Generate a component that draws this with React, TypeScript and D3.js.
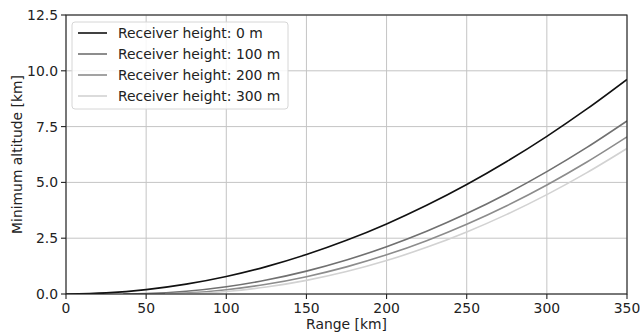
import React from "react";
import * as d3 from "d3";

// range [km] and minimum altitude [km]
const range0 = [0, 25, 50, 75, 100, 125, 150, 175, 200, 225, 250, 275, 300, 325, 350];
const alt0 = [0, 0.049, 0.196, 0.441, 0.785, 1.226, 1.766, 2.403, 3.139, 3.973, 4.905, 5.935, 7.063, 8.29, 9.614];

const range100 = [35.7, 50, 75, 100, 125, 150, 175, 200, 225, 250, 275, 300, 325, 350];
const alt100 = [0, 0.016, 0.121, 0.324, 0.626, 1.025, 1.523, 2.119, 2.812, 3.604, 4.494, 5.482, 6.568, 7.753];

const range200 = [50.5, 75, 100, 125, 150, 175, 200, 225, 250, 275, 300, 325, 350];
const alt200 = [0, 0.047, 0.192, 0.436, 0.777, 1.216, 1.754, 2.39, 3.124, 3.955, 4.885, 5.914, 7.04];

const range300 = [61.8, 75, 100, 125, 150, 175, 200, 225, 250, 275, 300, 325, 350];
const alt300 = [0, 0.014, 0.115, 0.313, 0.611, 1.006, 1.499, 2.09, 2.78, 3.567, 4.453, 5.437, 6.519];

const labels = ["Receiver height: 0 m", "Receiver height: 100 m", "Receiver height: 200 m", "Receiver height: 300 m"];
const colors = ["#111111", "#707070", "#8c8c8c", "#d2d2d2"];

const xTicks = [0, 50, 100, 150, 200, 250, 300, 350];
const yTicks = [0, 2.5, 5, 7.5, 10, 12.5];

const FONT = "'DejaVu Sans', sans-serif";
const FS = 13.9;

export default function App() {
  const W = 640, H = 333;
  const m = { left: 66, right: 13, top: 15, bottom: 39 };
  const x = d3.scaleLinear().domain([0, 350]).range([m.left, W - m.right]);
  const y = d3.scaleLinear().domain([0, 12.5]).range([H - m.bottom, m.top]);

  const series = [
    { xs: range0, ys: alt0 },
    { xs: range100, ys: alt100 },
    { xs: range200, ys: alt200 },
    { xs: range300, ys: alt300 },
  ];

  const line = d3.line<[number, number]>()
    .x(d => x(d[0])).y(d => y(d[1]))
    .curve(d3.curveMonotoneX);

  const legX = 72, legY = 22, legW = 216, legH = 87;

  return (
    <svg width={W} height={H} style={{ position: "absolute", left: 0, top: 0, background: "#fff" }}>
      <defs>
        <clipPath id="plotclip">
          <rect x={x(0)} y={y(12.5)} width={x(350) - x(0)} height={y(0) - y(12.5)} />
        </clipPath>
      </defs>

      {/* grid */}
      {xTicks.map(t => (
        <line key={"gx" + t} x1={x(t)} x2={x(t)} y1={y(0)} y2={y(12.5)} stroke="#c4c4c4" strokeWidth={1} />
      ))}
      {yTicks.map(t => (
        <line key={"gy" + t} x1={x(0)} x2={x(350)} y1={y(t)} y2={y(t)} stroke="#c4c4c4" strokeWidth={1} />
      ))}

      {/* curves */}
      <g clipPath="url(#plotclip)">
        {series.map((s, i) => (
          <path key={i} d={line(s.xs.map((v, j) => [v, s.ys[j]] as [number, number])) || ""}
            fill="none" stroke={colors[i]} strokeWidth={1.6} />
        ))}
      </g>

      {/* frame */}
      <rect x={x(0)} y={y(12.5)} width={x(350) - x(0)} height={y(0) - y(12.5)} fill="none" stroke="#222" strokeWidth={1.1} />

      {/* x ticks */}
      {xTicks.map(t => (
        <g key={"tx" + t}>
          <line x1={x(t)} x2={x(t)} y1={y(0)} y2={y(0) + 5} stroke="#222" strokeWidth={1.1} />
          <text x={x(t)} y={y(0) + 19} textAnchor="middle" fontFamily={FONT} fontSize={FS} fill="#222">{t}</text>
        </g>
      ))}
      {/* y ticks */}
      {yTicks.map(t => (
        <g key={"ty" + t}>
          <line x1={x(0) - 5} x2={x(0)} y1={y(t)} y2={y(t)} stroke="#222" strokeWidth={1.1} />
          <text x={x(0) - 8} y={y(t) + 5} textAnchor="end" fontFamily={FONT} fontSize={FS} fill="#222">{t.toFixed(1)}</text>
        </g>
      ))}

      {/* axis labels */}
      <text x={(x(0) + x(350)) / 2} y={H - 4} textAnchor="middle" fontFamily={FONT} fontSize={FS} fill="#222">Range [km]</text>
      <text transform={`translate(22,${(y(0) + y(12.5)) / 2}) rotate(-90)`} textAnchor="middle" fontFamily={FONT} fontSize={FS} fill="#222">Minimum altitude [km]</text>

      {/* legend */}
      <rect x={legX} y={legY} width={legW} height={legH} rx={3} fill="rgba(255,255,255,0.85)" stroke="#d6d6d6" strokeWidth={1} />
      {labels.map((lab, i) => (
        <g key={lab}>
          <line x1={legX + 6} x2={legX + 35} y1={legY + 11 + i * 21} y2={legY + 11 + i * 21} stroke={colors[i]} strokeWidth={1.6} />
          <text x={legX + 46} y={legY + 16 + i * 21} fontFamily={FONT} fontSize={FS} fill="#222">{lab}</text>
        </g>
      ))}
    </svg>
  );
}
